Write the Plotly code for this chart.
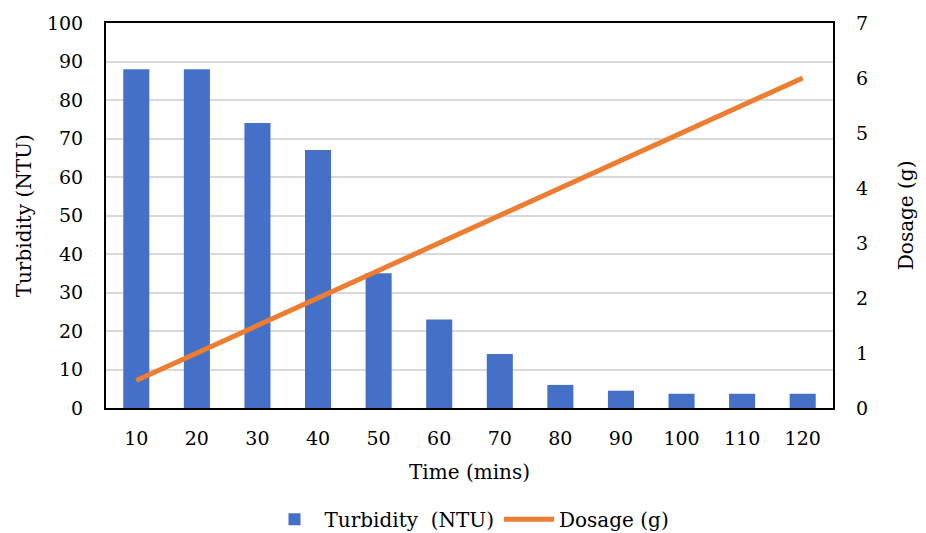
import plotly.graph_objects as go

time_mins = ["10", "20", "30", "40", "50", "60", "70", "80", "90", "100", "110", "120"]
turbidity = [88, 88, 74, 67, 35, 23, 14, 6, 4.5, 3.7, 3.7, 3.7]
dosage = [0.5, 1.0, 1.5, 2.0, 2.5, 3.0, 3.5, 4.0, 4.5, 5.0, 5.5, 6.0]

FAM = "DejaVu Serif"
tickfont = dict(family=FAM, size=19, color="#000000")
titlefont = dict(family=FAM, size=20, color="#000000")

fig = go.Figure()
fig.add_trace(go.Bar(
    x=time_mins, y=turbidity, name="Turbidity  (NTU)",
    marker=dict(color="#4470C8", line=dict(width=0)),
    yaxis="y",
))
fig.add_trace(go.Scatter(
    x=time_mins, y=dosage, name="Dosage (g)", mode="lines",
    line=dict(color="#ED7D31", width=5),
    yaxis="y2",
))

fig.update_layout(
    width=926, height=533,
    margin=dict(l=106, r=93, t=23, b=125, autoexpand=False),
    paper_bgcolor="white", plot_bgcolor="white",
    font=tickfont,
    bargap=0.57,
    showlegend=True,
    legend=dict(orientation="h", x=0.5, xanchor="center", yref="paper", y=-0.238, yanchor="top",
                font=titlefont, itemwidth=50, traceorder="normal"),
    xaxis=dict(
        type="category", automargin=False,
        showline=True, linecolor="#000000", linewidth=2, mirror=True,
        ticks="", tickfont=tickfont, showgrid=False, ticklabelstandoff=12,
    ),
    yaxis=dict(
        range=[0, 100], dtick=10, automargin=False,
        showline=True, linecolor="#000000", linewidth=2, mirror=True,
        showgrid=True, gridcolor="#D9D9D9", gridwidth=1.5,
        ticks="", tickfont=tickfont, zeroline=False, ticklabelstandoff=17,
    ),
    yaxis2=dict(
        range=[0, 7], dtick=1, overlaying="y", side="right", automargin=False,
        showgrid=False, showline=False, ticks="", tickfont=tickfont, zeroline=False,
        ticklabelstandoff=22,
    ),
    annotations=[
        dict(text="Time (mins)", xref="paper", yref="paper", x=0.5, y=-0.166,
             xanchor="center", yanchor="middle", showarrow=False, font=titlefont),
        dict(text="Turbidity (NTU)", xref="paper", yref="paper", x=-0.113, y=0.5,
             xanchor="center", yanchor="middle", showarrow=False, textangle=-90, font=titlefont),
        dict(text="Dosage (g)", xref="paper", yref="paper", x=1.1, y=0.5,
             xanchor="center", yanchor="middle", showarrow=False, textangle=-90, font=titlefont),
    ],
)

fig.write_html("out.html")
